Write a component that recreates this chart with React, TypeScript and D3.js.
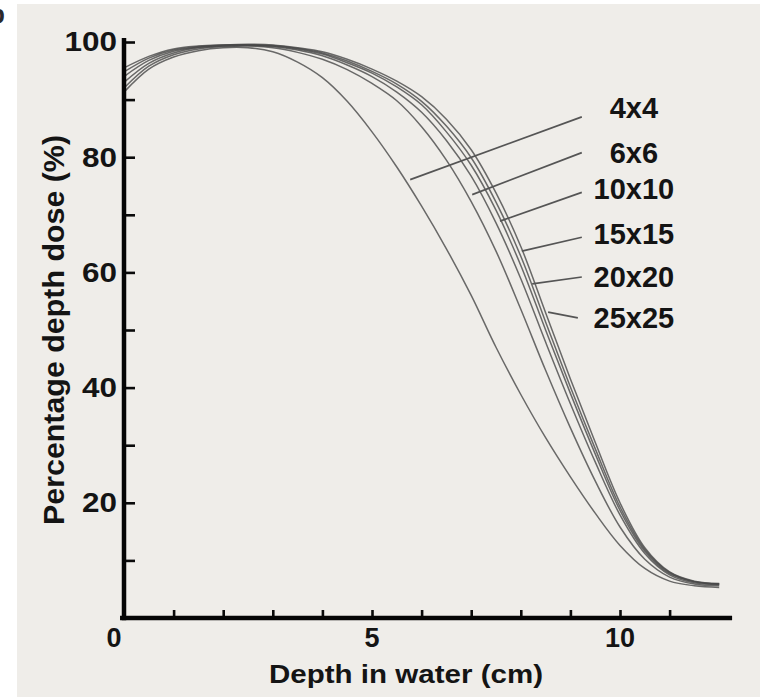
import React, { useEffect, useRef } from 'react';
import * as d3 from 'd3';

// depth in water (cm)
const depths = [0, 0.5, 1, 1.5, 2, 2.5, 3, 3.5, 4, 4.5, 5, 5.5, 6, 6.5, 7, 7.5, 8, 8.5, 9, 9.5, 10, 10.5, 11, 11.5, 12];

const fieldSizes = ['4x4', '6x6', '10x10', '15x15', '20x20', '25x25'];

// percentage depth dose per field size
const dose4x4 = [91.3, 95.3, 97.4, 98.5, 99.0, 99.0, 98.3, 96.5, 93.8, 89.7, 84.4, 78.3, 71.5, 64.1, 56.0, 47.0, 38.8, 31.3, 24.5, 18.2, 12.6, 8.6, 6.4, 5.6, 5.3];
const dose6x6 = [92.0, 95.8, 97.8, 98.8, 99.2, 99.3, 99.0, 98.2, 97.0, 95.2, 92.8, 89.8, 85.3, 79.5, 72.3, 63.7, 53.6, 43.0, 33.0, 23.8, 15.8, 10.2, 7.1, 5.9, 5.6];
const dose10x10 = [93.0, 96.3, 98.1, 99.0, 99.3, 99.4, 99.2, 98.6, 97.6, 96.0, 94.0, 91.3, 87.8, 82.9, 76.7, 68.6, 58.9, 47.9, 37.2, 27.1, 17.9, 11.2, 7.5, 6.1, 5.8];
const dose15x15 = [94.0, 96.8, 98.4, 99.1, 99.4, 99.5, 99.3, 98.8, 97.9, 96.4, 94.6, 92.2, 89.1, 84.4, 78.6, 70.8, 61.2, 50.0, 39.0, 28.5, 18.7, 11.6, 7.7, 6.3, 5.9];
const dose20x20 = [94.8, 97.2, 98.6, 99.2, 99.5, 99.5, 99.4, 98.9, 98.1, 96.7, 94.9, 92.7, 89.7, 85.4, 79.9, 72.2, 62.8, 51.4, 40.1, 29.4, 19.3, 11.9, 7.9, 6.3, 5.9];
const dose25x25 = [95.5, 97.5, 98.8, 99.3, 99.5, 99.6, 99.5, 99.0, 98.3, 97.0, 95.3, 93.2, 90.5, 86.6, 81.3, 73.8, 64.5, 53.0, 41.5, 30.5, 20.0, 12.2, 8.0, 6.4, 6.0];

// annotation: label position and leader line (depth, dose)
const labelDepth = [10.28, 10.28, 10.28, 10.28, 10.28, 10.28];
const labelDose = [88.6, 80.8, 74.6, 66.8, 59.3, 52.1];
const leaderStartDepth = [9.23, 9.23, 9.23, 9.23, 9.23, 9.15];
const leaderStartDose = [87.0, 80.8, 73.9, 66.1, 59.2, 52.1];
const leaderEndDepth = [5.77, 7.02, 7.58, 8.02, 8.23, 8.55];
const leaderEndDose = [76.1, 73.5, 68.9, 63.7, 58.0, 53.1];

const yTicks = [10, 20, 30, 40, 50, 60, 70, 80, 90, 100];
const yLabels = [20, 40, 60, 80, 100];
const xTicks = [1, 2, 3, 4, 5, 6, 7, 8, 9, 10, 11];
const xLabels = [0, 5, 10];

const FONT = '"Liberation Sans", Arial, Helvetica, sans-serif';

const App = () => {
  const svgRef = useRef(null);

  useEffect(() => {
    const width = 760;
    const height = 697;
    const svg = d3.select(svgRef.current)
      .attr('width', width)
      .attr('height', height);
    svg.selectAll('*').remove();

    const x = d3.scaleLinear().domain([0, 10]).range([124, 620]);
    const y = d3.scaleLinear().domain([0, 100]).range([618, 42]);

    // background panel
    svg.append('rect')
      .attr('x', 17).attr('y', 4)
      .attr('width', width - 17).attr('height', height - 4)
      .attr('fill', '#efede9');

    // panel letter, mostly outside the picture as in the source
    svg.append('text')
      .attr('x', 5).attr('y', 23)
      .attr('text-anchor', 'end')
      .attr('font-family', FONT)
      .attr('font-weight', 'bold')
      .attr('font-size', 26)
      .attr('fill', '#2a2a2a')
      .text('b');

    const series = [dose4x4, dose6x6, dose10x10, dose15x15, dose20x20, dose25x25];

    const line = d3.line()
      .x((d, i) => x(depths[i]))
      .y(d => y(d))
      .curve(d3.curveCatmullRom.alpha(0.5));

    // curves
    svg.append('g')
      .selectAll('path')
      .data(series)
      .enter()
      .append('path')
      .attr('d', d => line(d))
      .attr('fill', 'none')
      .attr('stroke', '#474747')
      .attr('stroke-opacity', 0.8)
      .attr('stroke-width', 1.5);

    // leader lines
    svg.append('g')
      .selectAll('line')
      .data(fieldSizes)
      .enter()
      .append('line')
      .attr('x1', (d, i) => x(leaderStartDepth[i]))
      .attr('y1', (d, i) => y(leaderStartDose[i]))
      .attr('x2', (d, i) => x(leaderEndDepth[i]))
      .attr('y2', (d, i) => y(leaderEndDose[i]))
      .attr('stroke', '#555')
      .attr('stroke-width', 1.7);

    // field size labels
    svg.append('g')
      .selectAll('text')
      .data(fieldSizes)
      .enter()
      .append('text')
      .attr('x', (d, i) => x(labelDepth[i]))
      .attr('y', (d, i) => y(labelDose[i]))
      .attr('dy', '0.36em')
      .attr('text-anchor', 'middle')
      .attr('font-family', FONT)
      .attr('font-weight', 'bold')
      .attr('font-size', 29)
      .attr('fill', '#141414')
      .text(d => d);

    // y axis
    const yAxis = d3.axisLeft(y)
      .tickValues(yTicks)
      .tickSizeInner(-11)
      .tickSizeOuter(0)
      .tickPadding(7)
      .tickFormat(d => (yLabels.includes(d) ? String(d) : ''));
    const gy = svg.append('g')
      .attr('transform', `translate(${x(0)},0)`)
      .call(yAxis);
    gy.select('.domain').remove();
    gy.selectAll('.tick line').attr('stroke', '#0a0a0a').attr('stroke-width', 2.6);
    gy.selectAll('.tick text')
      .attr('font-family', FONT)
      .attr('font-weight', 'bold')
      .attr('font-size', 28)
      .attr('fill', '#141414')
      .attr('textLength', d => (yLabels.includes(d) ? String(d).length * 17.5 : null))
      .attr('lengthAdjust', 'spacingAndGlyphs');

    // x axis
    const xAxis = d3.axisBottom(x)
      .tickValues(xTicks)
      .tickSizeInner(-8)
      .tickSizeOuter(0)
      .tickFormat(() => '');
    const gx = svg.append('g')
      .attr('transform', `translate(0,${y(0)})`)
      .call(xAxis);
    gx.select('.domain').remove();
    gx.selectAll('.tick line').attr('stroke', '#0a0a0a').attr('stroke-width', 2.6);

    svg.append('g')
      .selectAll('text')
      .data(xLabels)
      .enter()
      .append('text')
      .attr('x', d => x(d) - (d === 0 ? 10 : 0))
      .attr('y', y(0) + 29)
      .attr('text-anchor', 'middle')
      .attr('font-family', FONT)
      .attr('font-weight', 'bold')
      .attr('font-size', 27)
      .attr('fill', '#141414')
      .text(d => d);

    // axis lines
    svg.append('line')
      .attr('x1', x(0)).attr('x2', x(0))
      .attr('y1', y(100.7)).attr('y2', y(-0.4))
      .attr('stroke', '#050505').attr('stroke-width', 4.5);
    svg.append('line')
      .attr('x1', x(-0.08)).attr('x2', x(12.26))
      .attr('y1', y(0)).attr('y2', y(0))
      .attr('stroke', '#050505').attr('stroke-width', 4.5);

    // axis titles
    svg.append('text')
      .attr('x', 406).attr('y', 683)
      .attr('text-anchor', 'middle')
      .attr('font-family', FONT)
      .attr('font-weight', 'bold')
      .attr('font-size', 25)
      .attr('fill', '#141414')
      .attr('textLength', 274)
      .attr('lengthAdjust', 'spacingAndGlyphs')
      .text('Depth in water (cm)');

    svg.append('text')
      .attr('transform', 'translate(64,330) rotate(-90)')
      .attr('text-anchor', 'middle')
      .attr('font-family', FONT)
      .attr('font-weight', 'bold')
      .attr('font-size', 30)
      .attr('fill', '#141414')
      .attr('textLength', 390)
      .attr('lengthAdjust', 'spacingAndGlyphs')
      .text('Percentage depth dose (%)');
  }, []);

  return (
    <div style={{ position: 'absolute', left: 0, top: 0 }}>
      <svg ref={svgRef} style={{ display: 'block' }}></svg>
    </div>
  );
};

export default App;
